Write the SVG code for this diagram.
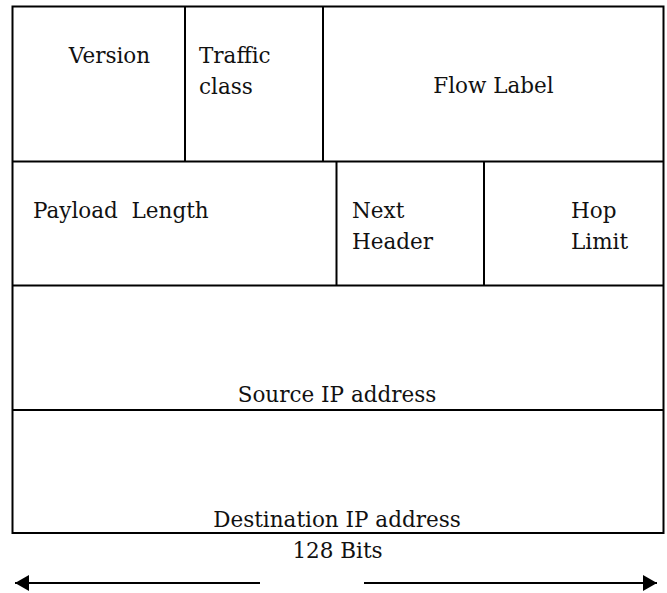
<svg xmlns="http://www.w3.org/2000/svg" width="667" height="593" viewBox="0 0 667 593">
  <style>
    .cell { fill: none; stroke: #000; stroke-width: 2; }
    .rule { stroke: #000; stroke-width: 2; }
    .lbl { font-family: "DejaVu Serif", "Liberation Serif", serif; font-size: 21.5px; fill: #111; white-space: pre; }
    .mid { text-anchor: middle; }
  </style>
  <defs>
    <marker id="head" viewBox="0 0 14 16" refX="14" refY="8" markerWidth="14" markerHeight="16" markerUnits="userSpaceOnUse" orient="auto">
      <path d="M0,0 L14,8 L0,16 Z" fill="#000"/>
    </marker>
  </defs>

  <rect width="667" height="593" fill="#fff"/>

  <!-- IPv6 header layout: outer frame and row dividers -->
  <rect class="cell" x="12.5" y="6.5" width="651" height="526.5"/>

  <g id="version">
    <line class="rule" x1="185" y1="6.5" x2="185" y2="161.5"/>
    <text class="lbl mid" x="109.5" y="63">Version</text>
  </g>
  <g id="traffic-class">
    <line class="rule" x1="323" y1="6.5" x2="323" y2="161.5"/>
    <text class="lbl" x="199" y="63">Traffic</text>
    <text class="lbl" x="199" y="94">class</text>
  </g>
  <g id="flow-label">
    <line class="rule" x1="12.5" y1="161.5" x2="663.5" y2="161.5"/>
    <text class="lbl mid" x="493.5" y="93">Flow Label</text>
  </g>

  <g id="payload-length">
    <line class="rule" x1="336.5" y1="161.5" x2="336.5" y2="285.5"/>
    <text class="lbl" x="33" y="218">Payload  Length</text>
  </g>
  <g id="next-header">
    <line class="rule" x1="484" y1="161.5" x2="484" y2="285.5"/>
    <text class="lbl" x="352" y="218">Next</text>
    <text class="lbl" x="352" y="249">Header</text>
  </g>
  <g id="hop-limit">
    <text class="lbl" x="571" y="218">Hop</text>
    <text class="lbl" x="571" y="249">Limit</text>
  </g>

  <g id="source-address">
    <line class="rule" x1="12.5" y1="285.5" x2="663.5" y2="285.5"/>
    <text class="lbl mid" x="337" y="402">Source IP address</text>
  </g>
  <g id="destination-address">
    <line class="rule" x1="12.5" y1="410" x2="663.5" y2="410"/>
    <text class="lbl mid" x="337" y="527">Destination IP address</text>
  </g>

  <g id="width-label">
    <text class="lbl mid" x="337.5" y="558">128 Bits</text>
  </g>

  <!-- width arrows pointing outward -->
  <g id="connectors">
    <line class="rule" x1="260" y1="583" x2="15" y2="583" marker-end="url(#head)"/>
    <line class="rule" x1="364" y1="583" x2="657" y2="583" marker-end="url(#head)"/>
  </g>
</svg>
